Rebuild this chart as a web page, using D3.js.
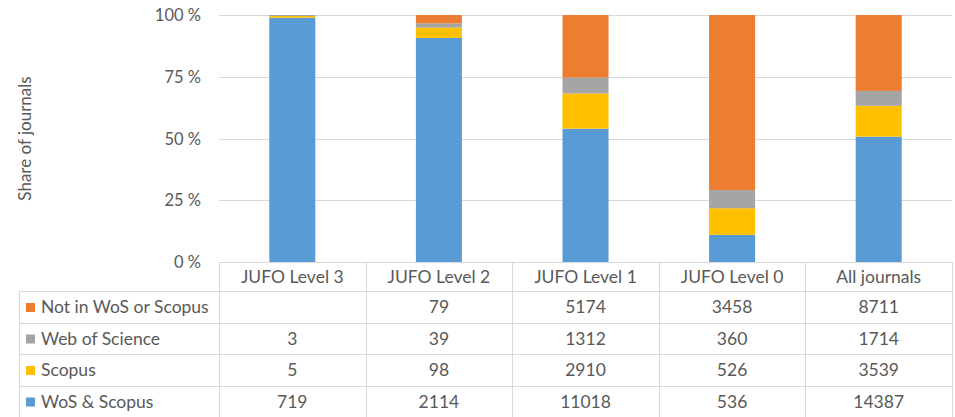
<!DOCTYPE html>
<html>
<head>
<meta charset="utf-8">
<script src="https://cdn.jsdelivr.net/npm/d3@7"></script>
<style>
  body { margin: 0; background: #fff; }
  text { font-family: Lato, "Open Sans", sans-serif; fill: #595959; }
</style>
</head>
<body>
<div id="chart"></div>
<script>
// categories and series (counts of journals)
const categories = ['JUFO Level 3', 'JUFO Level 2', 'JUFO Level 1', 'JUFO Level 0', 'All journals'];
const seriesNames = ['WoS & Scopus', 'Scopus', 'Web of Science', 'Not in WoS or Scopus'];
const seriesColors = ['#5b9bd5', '#ffc000', '#a5a5a5', '#ed7d31'];
const wosScopus = [719, 2114, 11018, 536, 14387];
const scopusOnly = [5, 98, 2910, 526, 3539];
const wosOnly = [3, 39, 1312, 360, 1714];
const notIndexed = [null, 79, 5174, 3458, 8711];
const yTicks = [0, 0.25, 0.5, 0.75, 1];

const width = 955, height = 417;
const plot = { left: 219, right: 952, top: 15, bottom: 262 };
const rowH = [29, 32, 31, 32, 31]; // header + 4 rows
const tableLeft = 19;
const fontSize = '17.5px';

const svg = d3.select('#chart')
    .append('svg')
    .attr('width', width)
    .attr('height', height);

const seriesValues = [wosScopus, scopusOnly, wosOnly, notIndexed];
const rows = categories.map((c, i) => {
    const r = { cat: c };
    seriesNames.forEach((s, k) => { r[s] = seriesValues[k][i] || 0; });
    return r;
});

const stack = d3.stack().keys(seriesNames).offset(d3.stackOffsetExpand);
const stacked = stack(rows);

const x = d3.scaleBand()
    .domain(categories)
    .range([plot.left, plot.right])
    .paddingInner(0.686)
    .paddingOuter(0.343);

const y = d3.scaleLinear()
    .domain([0, 1])
    .range([plot.bottom, plot.top]);

// gridlines
svg.append('g')
    .selectAll('line')
    .data(yTicks)
    .join('line')
    .attr('x1', plot.left)
    .attr('x2', plot.right)
    .attr('y1', d => Math.round(y(d)) + 0.5)
    .attr('y2', d => Math.round(y(d)) + 0.5)
    .attr('stroke', '#d9d9d9')
    .attr('stroke-width', 1);

// y tick labels
svg.append('g')
    .selectAll('text')
    .data(yTicks)
    .join('text')
    .attr('x', 201)
    .attr('y', d => y(d) + 6)
    .attr('text-anchor', 'end')
    .attr('font-size', '16.5px')
    .text(d => Math.round(d * 100) + ' %');

// y axis title
svg.append('text')
    .attr('transform', 'translate(31,' + ((plot.top + plot.bottom) / 2) + ') rotate(-90)')
    .attr('text-anchor', 'middle')
    .attr('font-size', '17px')
    .text('Share of journals');

// bars
svg.append('g')
    .selectAll('g')
    .data(stacked)
    .join('g')
    .attr('fill', (d, i) => seriesColors[i])
    .selectAll('rect')
    .data(d => d)
    .join('rect')
    .attr('x', d => x(d.data.cat))
    .attr('width', x.bandwidth())
    .attr('y', d => y(d[1]))
    .attr('height', d => y(d[0]) - y(d[1]));

// data table
const table = svg.append('g');
const colEdges = categories.map(c => x(c) - x.step() * x.paddingInner() / 2);
colEdges.push(plot.right);
const rowEdges = [plot.bottom];
rowH.forEach(h => rowEdges.push(rowEdges[rowEdges.length - 1] + h));

const gridColor = '#d9d9d9';
// horizontal lines
rowEdges.forEach((ry, i) => {
    table.append('line')
        .attr('x1', i === 0 ? plot.left : tableLeft)
        .attr('x2', plot.right)
        .attr('y1', ry + 0.5)
        .attr('y2', ry + 0.5)
        .attr('stroke', gridColor);
});
// vertical lines
colEdges.forEach(cx => {
    table.append('line')
        .attr('x1', Math.round(cx) + 0.5)
        .attr('x2', Math.round(cx) + 0.5)
        .attr('y1', rowEdges[0])
        .attr('y2', rowEdges[rowEdges.length - 1])
        .attr('stroke', gridColor);
});
table.append('line')
    .attr('x1', tableLeft + 0.5)
    .attr('x2', tableLeft + 0.5)
    .attr('y1', rowEdges[1])
    .attr('y2', rowEdges[rowEdges.length - 1])
    .attr('stroke', gridColor);

// header labels
categories.forEach(c => {
    table.append('text')
        .attr('x', x(c) + x.bandwidth() / 2)
        .attr('y', (rowEdges[0] + rowEdges[1]) / 2 + 6)
        .attr('text-anchor', 'middle')
        .attr('font-size', fontSize)
        .text(c);
});

// rows: top row is last series
const tableSeries = seriesNames.map((s, k) => k).reverse();
tableSeries.forEach((k, ri) => {
    const cy = (rowEdges[ri + 1] + rowEdges[ri + 2]) / 2;
    table.append('rect')
        .attr('x', 26)
        .attr('y', cy - 4)
        .attr('width', 9)
        .attr('height', 9)
        .attr('fill', seriesColors[k]);
    table.append('text')
        .attr('x', 41)
        .attr('y', cy + 6)
        .attr('font-size', fontSize)
        .text(seriesNames[k]);
    seriesValues[k].forEach((v, i) => {
        if (v == null) return;
        table.append('text')
            .attr('x', x(categories[i]) + x.bandwidth() / 2)
            .attr('y', cy + 6)
            .attr('text-anchor', 'middle')
            .attr('font-size', fontSize)
            .text(v);
    });
});
</script>
</body>
</html>
